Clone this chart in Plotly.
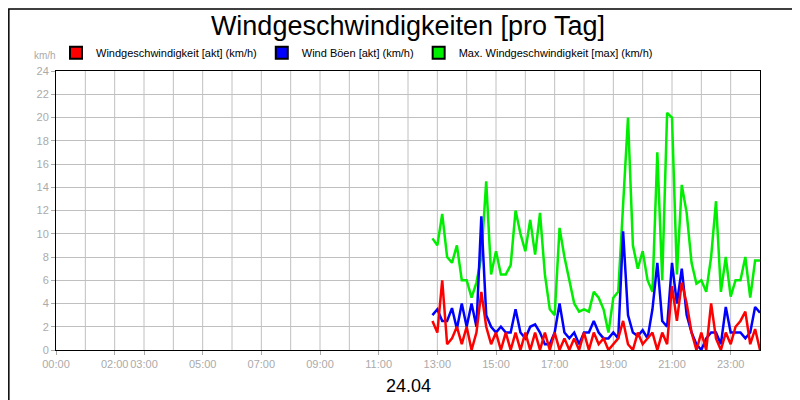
import pandas as pd
import plotly.graph_objects as go

# 10-minute samples, 12:50 .. 24:00 on 24.04
times = pd.date_range("2024-04-24 12:50", periods=68, freq="10min")

wind_akt = [2.5, 1.5, 6, 0.5, 1, 2, 0.5, 2, 0, 1.5, 5, 2, 0.5, 1.5, 0, 1.5, 0, 1.5, 0, 1.5,
            0, 1.5, 0, 1.5, 0, 1.5, 0, 1, 0, 1, 0, 1.5, 0, 1.5, 0.5, 1, 0, 0.5, 1, 2.5,
            0.5, 0, 1.5, 0.5, 1, 1.5, 0, 1.5, 0.5, 5.5, 2.5, 5.8, 4, 1.5, 0, 1.5, 0, 4, 1, 0,
            1.5, 0.5, 2, 2.5, 3.3, 0.5, 1.8, 0]
boeen_akt = [3.0, 3.5, 2.5, 2.5, 3.6, 1.8, 4, 2, 4, 2, 11.5, 3, 2, 1.5, 2, 1.5, 1.5, 3.5, 1.5, 1,
             2, 2.2, 1.5, 0.5, 0.5, 1.5, 4, 1.5, 1, 1.5, 0.5, 1.5, 1.5, 2.5, 1.5, 1, 1, 1.5, 1, 10.2,
             3, 1.5, 1.2, 1.7, 1, 3.5, 7.5, 2.5, 2, 7.5, 4, 7, 3, 1.5, 0.5, 0, 1, 1.5, 1.5, 0.5,
             3.7, 1.5, 1.5, 1.5, 1, 1.5, 3.7, 3.2]
wind_max = [9.6, 9.0, 11.7, 8, 7.5, 9, 6, 6, 4.5, 5.8, 8, 14.5, 6.5, 8.5, 6.5, 6.5, 7.3, 12, 10, 8.5,
            11.2, 8.2, 11.8, 6.5, 3.5, 3, 10.5, 8, 6, 4, 3.3, 3.5, 3.3, 5, 4.5, 3.5, 1.5, 4.5, 5, 13,
            20, 9, 7, 8.5, 6, 5, 17, 6, 20.4, 20, 6.5, 14.2, 11.8, 7.5, 5.7, 6, 5, 8, 12.8, 5,
            8, 4.6, 6, 6, 8, 4.5, 7.7, 7.7]

series = [
    ("Windgeschwindigkeit [akt] (km/h)", wind_akt, "#ff0000"),
    ("Wind Böen [akt] (km/h)", boeen_akt, "#0000ff"),
    ("Max. Windgeschwindigkeit [max] (km/h)", wind_max, "#00ee00"),
]

tick_times = ["00:00", "02:00", "03:00", "05:00", "07:00", "09:00", "11:00",
              "13:00", "15:00", "17:00", "19:00", "21:00", "23:00"]

fig = go.Figure()
# green first so red/blue sit on top
for name, vals, col in reversed(series):
    fig.add_trace(go.Scatter(x=times, y=vals, mode="lines", showlegend=False,
                             line=dict(color=col, width=2.5)))
for name, vals, col in series:
    fig.add_trace(go.Scatter(x=[None], y=[None], mode="markers", name=name,
                             marker=dict(symbol="square", size=9, color=col,
                                         line=dict(color="black", width=1))))

fig.update_layout(
    width=800, height=400,
    paper_bgcolor="white", plot_bgcolor="white",
    margin=dict(l=48, r=48, t=63, b=58, autoexpand=False),
    font=dict(family="Liberation Sans, Arial, sans-serif", color="black"),
    title=dict(text="Windgeschwindigkeiten [pro Tag]", x=0.5, xanchor="center",
               y=0.955, yanchor="middle", font=dict(size=27)),
    legend=dict(orientation="h", x=0.0, xanchor="left", y=1.065, yanchor="middle",
                font=dict(size=11), itemsizing="constant", itemwidth=30,
                tracegroupgap=0, bgcolor="rgba(0,0,0,0)"),
    xaxis=dict(range=["2024-04-24 00:00", "2024-04-25 00:00"], automargin=False,
               tickvals=["2024-04-24 " + t for t in tick_times], ticktext=tick_times,
               tickangle=0, tickfont=dict(size=11, color="#aaaaaa"), ticks="outside",
               ticklen=4, tickcolor="#aaaaaa", showgrid=False, showline=True,
               linecolor="black", mirror=True, zeroline=False),
    yaxis=dict(range=[0, 24], dtick=2, automargin=False,
               tickfont=dict(size=11, color="#aaaaaa"),
               ticks="outside", ticklen=4, tickcolor="#aaaaaa",
               gridcolor="#c0c0c0", showline=True, linecolor="black", mirror=True,
               zeroline=False),
    shapes=[dict(type="rect", xref="paper", yref="paper", x0=-0.067, x1=1.067,
                 y0=-0.205, y1=1.222, line=dict(color="black", width=1.5))],
    annotations=[
        dict(text="km/h", xref="paper", yref="paper", x=-0.015, y=1.03,
             xanchor="center", yanchor="bottom", showarrow=False,
             font=dict(size=10, color="#aaaaaa")),
        dict(text="24.04", xref="paper", yref="paper", x=0.5, y=-0.13,
             xanchor="center", yanchor="middle", showarrow=False, font=dict(size=18)),
    ],
)
# hourly vertical grid lines
for h in range(1, 24):
    fig.add_vline(x=pd.Timestamp("2024-04-24") + pd.Timedelta(hours=h),
                  line=dict(color="#c0c0c0", width=1), layer="below")

fig.write_html("out.html")
